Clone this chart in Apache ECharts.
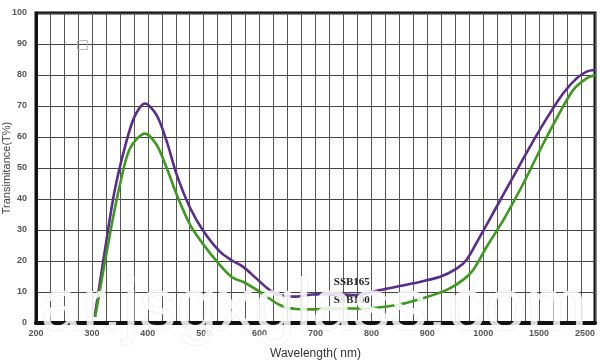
<!DOCTYPE html>
<html><head><meta charset="utf-8">
<script src="https://cdn.jsdelivr.net/npm/echarts@6/dist/echarts.min.js"></script>
<style>html,body{margin:0;padding:0;background:#fff}#c{width:600px;height:364px}</style>
</head><body><div id="c"></div>
<script>
// Tick labels on the (non-linear) wavelength axis
var xTickLabels = [200, 300, 400, 500, 600, 700, 800, 900, 1000, 1500, 2500];
var yTicks = [0, 10, 20, 30, 40, 50, 60, 70, 80, 90, 100];

// SSB165 (upper curve): wavelength (nm) and transmittance (%)
var ssb165Wl = [305, 322, 340, 358, 376, 395, 416, 434, 452, 476, 500, 529, 552, 570, 594, 618, 636, 665, 695, 731, 774, 815, 875, 923, 953, 970, 994, 1120, 1269, 1419, 1636, 1932, 2171, 2350, 2500];
var ssb165T  = [2, 22, 42, 56, 66.5, 70.8, 67, 58.5, 47.7, 37, 29.5, 23, 20, 18.2, 14.4, 10.6, 9, 8.5, 9.2, 9.3, 9.0, 10.6, 12.8, 14.9, 17.6, 20.3, 27.8, 37.5, 47.2, 56.9, 66, 74.1, 78.9, 81.1, 81.6];

// SSB100 (lower curve)
var ssb100Wl = [306, 332, 350, 368, 395, 416, 434, 452, 476, 500, 529, 552, 570, 600, 636, 665, 695, 737, 785, 845, 892, 934, 964, 982, 1031, 1180, 1359, 1516, 1814, 2111, 2350, 2500];
var ssb100T  = [2, 28.4, 44.5, 56.3, 61.1, 57.4, 49.9, 41.3, 31.6, 25.2, 18.7, 14.6, 13.3, 10.1, 5.8, 4.5, 4.4, 4.7, 4.7, 5.8, 8, 10.6, 13.9, 17.1, 24.6, 33.2, 45, 55.8, 66, 75.2, 78.9, 80];

var seriesNames = ['SSB165', 'SSB100'];

// Axis scale: piecewise-linear position of a wavelength between labelled ticks
function toPos(w) {
  for (var i = 0; i < xTickLabels.length - 1; i++) {
    var a = xTickLabels[i], b = xTickLabels[i + 1];
    if (w <= b) return i + (w - a) / (b - a);
  }
  return xTickLabels.length - 1;
}
function pairs(wl, t) { return wl.map(function (w, i) { return [toPos(w), t[i]]; }); }

var chart = echarts.init(document.getElementById('c'));
var font = 'Liberation Sans, Arial, sans-serif';
chart.setOption({
  animation: false,
  backgroundColor: '#fff',
  grid: { left: 36, right: 5, top: 13, bottom: 41, containLabel: false, outerBoundsMode: 'none',
    show: true, borderColor: '#111', borderWidth: 3 },
  xAxis: {
    type: 'value', min: 0, max: xTickLabels.length - 1, interval: 1,
    name: 'Wavelength( nm)', nameLocation: 'middle', nameGap: 25, nameMoveOverlap: false,
    nameTextStyle: { fontFamily: font, fontSize: 12, color: '#333' },
    axisLine: { show: true, lineStyle: { color: '#111', width: 4 } },
    axisTick: { show: false },
    axisLabel: { fontFamily: font, fontSize: 9, fontWeight: 'bold', color: '#555', margin: 6,
      alignMaxLabel: 'right', hideOverlap: false,
      formatter: function (v) { return xTickLabels[Math.round(v)]; } },
    splitLine: { show: true, lineStyle: { color: '#555', width: 1 } },
    minorTick: { show: false, splitNumber: 4 },
    minorSplitLine: { show: true, lineStyle: { color: '#555', width: 1 } }
  },
  yAxis: {
    type: 'value', min: yTicks[0], max: yTicks[yTicks.length - 1], interval: 10,
    name: 'Transimitance(T%)', nameLocation: 'middle', nameGap: 24, nameMoveOverlap: false,
    nameTextStyle: { fontFamily: font, fontSize: 11, color: '#444' },
    axisLine: { show: true, lineStyle: { color: '#111', width: 3 } },
    axisTick: { show: false },
    axisLabel: { fontFamily: font, fontSize: 9, fontWeight: 'bold', color: '#555', margin: 9 },
    splitLine: { show: true, lineStyle: { color: '#444', width: 1 } }
  },
  series: [
    { name: seriesNames[0], type: 'line', smooth: 0.3, symbol: 'none',
      data: pairs(ssb165Wl, ssb165T),
      lineStyle: { color: '#5a2c8c', width: 2.6 },
      markPoint: { symbol: 'circle', symbolSize: 0, silent: true,
        data: [{ coord: [toPos(765), 13.2], value: seriesNames[0] }],
        label: { show: true, formatter: seriesNames[0], fontFamily: 'Liberation Serif, Times New Roman, serif',
          fontWeight: 'bold', fontSize: 11, color: '#222' } } },
    { name: seriesNames[1], type: 'line', smooth: 0.3, symbol: 'none',
      data: pairs(ssb100Wl, ssb100T),
      lineStyle: { color: '#3c9a1c', width: 2.6 },
      markPoint: { symbol: 'circle', symbolSize: 0, silent: true,
        data: [{ coord: [toPos(765), 7.3], value: seriesNames[1] }],
        label: { show: true, formatter: seriesNames[1], fontFamily: 'Liberation Serif, Times New Roman, serif',
          fontWeight: 'bold', fontSize: 11, color: '#222' } } }
  ],
  graphic: [
    { type: 'rect', left: 75, top: 38, shape: { width: 10, height: 9 },
      style: { fill: 'none', stroke: '#bbb', lineWidth: 1 }, z: 10 },
    { type: 'text', left: 40, top: 272, z: 100,
      style: { text: 'ar.jsgxglass.com', font: '74px Liberation Sans, Arial, sans-serif',
        fill: 'rgba(255,255,255,0.85)', stroke: 'rgba(170,170,170,0.25)', lineWidth: 1 } }
  ]
});
</script></body></html>
